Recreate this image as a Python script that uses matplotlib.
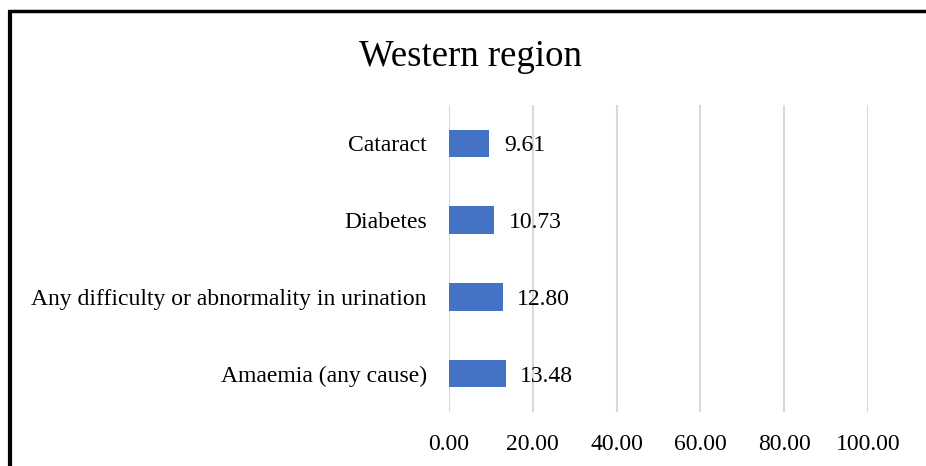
import matplotlib
matplotlib.use("Agg")
import matplotlib.pyplot as plt
from matplotlib.lines import Line2D

# Daten aus der Grafik
categories = ["Amaemia (any cause)", "Any difficulty or abnormality in urination",
              "Diabetes", "Cataract"]
values = [13.48, 12.80, 10.73, 9.61]
xticks = [0, 20, 40, 60, 80, 100]

plt.rcParams["font.family"] = ["Liberation Serif", "DejaVu Serif"]

fig = plt.figure(figsize=(9.26, 4.66), dpi=100)
ax = fig.add_axes([0.4849, 0.1159, 0.4525, 0.6588])

pos = range(len(categories))
ax.barh(pos, values, height=0.36, color="#4472C4", zorder=3)
for p, v in zip(pos, values):
    ax.text(v + 3.5, p, "%.2f" % v, va="center_baseline", ha="left", fontsize=17)

ax.set_xlim(0, 100)
ax.set_ylim(-0.5, 3.5)
ax.set_xticks(xticks)
ax.set_xticklabels(["%.2f" % t for t in xticks], fontsize=17)
ax.set_yticks(list(pos))
ax.set_yticklabels(categories, fontsize=17)
ax.tick_params(axis="both", length=0)
ax.tick_params(axis="x", pad=16)
ax.tick_params(axis="y", pad=16)
ax.grid(axis="x", color="#D9D9D9", linewidth=1.5, zorder=0)
for s in ax.spines.values():
    s.set_visible(False)

fig.text(0.508, 0.878, "Western region", ha="center", va="center", fontsize=26.5)

# Rahmen oben und links
fig.add_artist(Line2D([8 / 926, 1], [1 - 11 / 466, 1 - 11 / 466], color="black",
                      linewidth=2.5, solid_capstyle="butt"))
fig.add_artist(Line2D([9.5 / 926, 9.5 / 926], [0, 1 - 10 / 466], color="black",
                      linewidth=3, solid_capstyle="butt"))

fig.savefig("out.png", dpi=100)
